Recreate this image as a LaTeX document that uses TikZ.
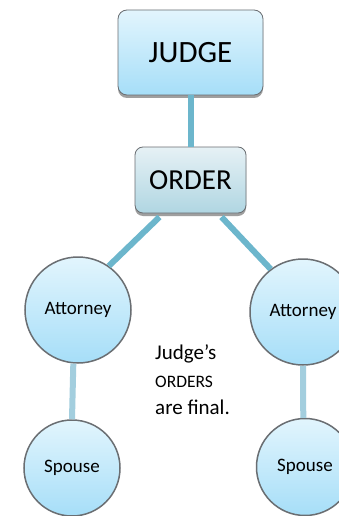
\documentclass[tikz,border=0pt]{standalone}
\usepackage{fontspec}
\setmainfont{Carlito}
\usetikzlibrary{shadows}
\definecolor{linkdark}{HTML}{6CB6CC}
\definecolor{linklight}{HTML}{A3CEDE}
\definecolor{rimgray}{HTML}{6A6E72}
\definecolor{skytop}{HTML}{E2F5FD}
\definecolor{skybot}{HTML}{A6DEF8}
\definecolor{steeltop}{HTML}{E6F1F5}
\definecolor{steelbot}{HTML}{B0D6E2}
\tikzset{boxjudge/.style={draw=rimgray,line width=0.8pt,rounded corners=9pt,
    top color=skytop,bottom color=skybot,
    drop shadow={shadow xshift=0pt,shadow yshift=-3pt,fill=gray!75,opacity=1}}}
\tikzset{boxorder/.style={draw=rimgray,line width=0.8pt,rounded corners=8pt,
    top color=steeltop,bottom color=steelbot,
    drop shadow={shadow xshift=0pt,shadow yshift=-3pt,fill=gray!75,opacity=1}}}
\tikzset{person/.style={circle,draw=rimgray,line width=1.5pt,
    top color=skytop,bottom color=skybot,font=\fontsize{19}{22}\selectfont}}
\begin{document}
\begin{tikzpicture}[x=1pt,y=-1pt]
                \useasboundingbox[fill=white] (0,0) rectangle (338,516);
                
                % Nodes
                \node[boxjudge,minimum width=145pt,minimum height=85pt,font=\fontsize{31}{34}\selectfont] (judge) at (190.5,52.5) {JUDGE};
                \node[boxorder,minimum width=111pt,minimum height=66pt,font=\fontsize{29}{32}\selectfont] (order) at (190.5,180) {ORDER};
                \node[person,minimum size=106pt] (attyL) at (78,310) {Attorney};
                \node[person,minimum size=106pt] (attyR) at (303,312) {Attorney};
                \node[person,minimum size=96pt] (spouseL) at (72,468) {Spouse};
                \node[person,minimum size=97pt] (spouseR) at (305,467) {Spouse};
                
                % Links
                \draw[linkdark,line width=6pt] (judge.south) -- (order.north);
                \draw[linkdark,line width=6pt] (order) ++(-31,37) coordinate (oL) (oL) -- (attyL.55);
                \draw[linkdark,line width=6pt] (order) ++(31,37) coordinate (oR) (oR) -- (attyR.127);
                \draw[linklight,line width=6pt] (attyL.265) -- (spouseL.90);
                \draw[linklight,line width=6pt] (attyR.270) -- (spouseR.92);
                
                % Note
                \node[anchor=base west,inner sep=0pt,font=\fontsize{21}{24}\selectfont] (noteA) at (155,359) {Judge’s};
                \node[anchor=base west,inner sep=0pt,font=\fontsize{17.5}{20}\selectfont] (noteB) at (155,387) {ORDERS};
                \node[anchor=base west,inner sep=0pt,font=\fontsize{21}{24}\selectfont] (noteC) at (155,414) {are final.};
\end{tikzpicture}
\end{document}
